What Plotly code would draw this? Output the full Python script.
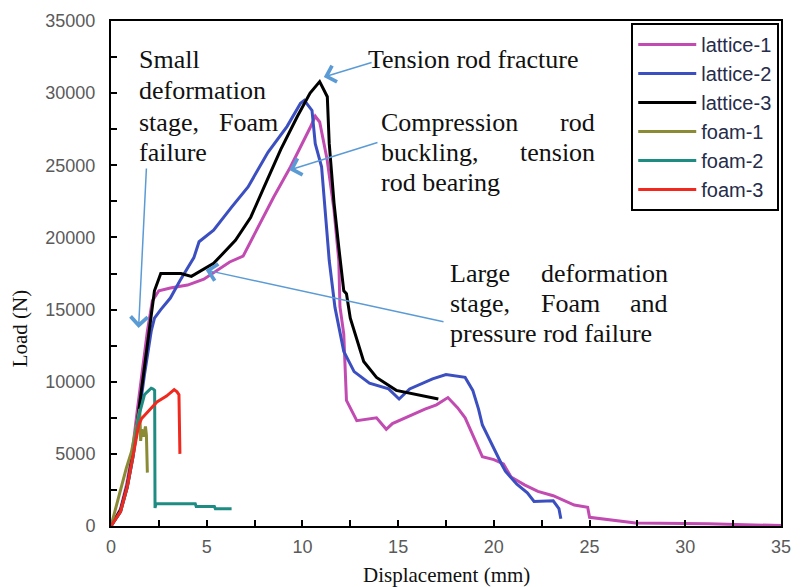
import plotly.graph_objects as go

# ---------------- data ----------------
lat1_x = [0, 0.5, 0.82, 1.1, 1.39, 1.65, 1.9, 2.16, 2.5, 3.1, 4.0, 4.85, 5.5, 6.2, 6.9, 7.68, 8.5, 9.38,
          10.0, 10.4, 10.67, 10.9, 11.29, 11.65, 11.9, 11.96, 12.16, 12.3, 12.84, 13.87, 14.38, 14.7,
          15.9, 16.4, 17.0, 17.6, 18.1, 18.5, 19.0, 19.4, 20.0, 20.5, 20.9, 21.6, 22.3, 23.1, 24.2,
          24.9, 25.0, 27.4, 31.2, 35.0]
lat1_y = [0, 1200, 2900, 5000, 8200, 11000, 13500, 15600, 16300, 16500, 16700, 17100, 17700, 18300,
          18700, 20700, 22800, 24900, 26500, 27600, 28400, 28000, 25400, 21900, 18400, 15200, 13300,
          8700, 7300, 7500, 6700, 7100, 7800, 8100, 8400, 8900, 8200, 7500, 6000, 4800, 4600, 4300,
          3400, 2850, 2400, 2100, 1450, 1300, 600, 200, 150, 30]

lat2_x = [0, 0.5, 0.85, 1.15, 1.45, 1.75, 2.1, 2.27, 2.6, 3.1, 3.6, 4.33, 4.6, 5.36, 6.3, 7.16, 8.2,
          9.2, 9.9, 10.1, 10.5, 10.67, 11.0, 11.2, 11.4, 11.7, 12.16, 12.7, 13.5, 14.5, 15.05, 15.6,
          16.8, 17.5, 18.5, 18.9, 19.2, 19.4, 19.9, 20.4, 20.6, 21.2, 21.75, 22.1, 23.1, 23.4, 23.5]
lat2_y = [0, 1000, 2700, 4800, 7600, 10500, 13500, 14400, 15000, 15800, 17000, 18600, 19700, 20500,
          22100, 23500, 25900, 27700, 29300, 29500, 28800, 26500, 24900, 21900, 18400, 15150, 12100,
          10700, 9900, 9500, 8800, 9500, 10200, 10500, 10300, 9400, 8100, 7000, 5600, 4300, 3800,
          2900, 2300, 1700, 1750, 1200, 500]

lat3_x = [0, 0.5, 0.85, 1.15, 1.45, 1.75, 2.0, 2.27, 2.6, 3.0, 3.66, 4.2, 5.36, 6.5, 7.3, 8.0, 8.87,
          9.74, 10.4, 10.9, 11.3, 11.4, 11.65, 11.9, 12.16, 12.3, 12.5, 13.2, 13.87, 14.9, 16.0, 17.1]
lat3_y = [0, 1100, 2800, 5000, 8000, 11000, 13500, 16300, 17500, 17500, 17500, 17300, 18200, 19800,
          21400, 23500, 26100, 28400, 30000, 30800, 29750, 26500, 22400, 19300, 16300, 16100, 14400,
          11400, 10300, 9400, 9100, 8800]

foam1_x = [0, 0.3, 0.56, 0.8, 1.07, 1.3, 1.5, 1.55, 1.6, 1.7, 1.8, 1.85, 1.9]
foam1_y = [0, 1500, 2850, 4000, 5150, 6800, 8100, 5900, 6700, 6200, 6900, 6300, 3700]

foam2_x = [0, 0.5, 0.85, 1.15, 1.45, 1.65, 1.75, 1.9, 2.1, 2.2, 2.28, 2.3, 2.35, 4.4, 4.45, 5.4, 5.45, 6.3]
foam2_y = [0, 1000, 2700, 4800, 7600, 8500, 9100, 9300, 9550, 9500, 9400, 1250, 1550, 1550, 1350,
           1350, 1200, 1200]

foam3_x = [0, 0.5, 0.85, 1.15, 1.45, 1.6, 1.9, 2.4, 2.9, 3.3, 3.45, 3.55, 3.6]
foam3_y = [0, 1000, 2700, 4800, 7000, 7450, 7900, 8600, 9000, 9450, 9300, 9100, 5000]

series_names = ["lattice-1", "lattice-2", "lattice-3", "foam-1", "foam-2", "foam-3"]
series_colors = ["#C24BB2", "#3B4FC0", "#000000", "#8B8B36", "#1F8C84", "#F0281E"]

x_ticks = [0, 5, 10, 15, 20, 25, 30, 35]
y_ticks = [0, 5000, 10000, 15000, 20000, 25000, 30000, 35000]

# ---------------- layout geometry ----------------
W, H = 801, 587
L, R, T, B = 111, 10, 21, 61
PW, PH = W - L - R, H - T - B
XMAX, YMAX = 35, 35000


def px2x(px):
    return (px - L) / PW * XMAX


def py2y(py):
    return (H - B - py) / PH * YMAX


fig = go.Figure()
all_x = [lat1_x, lat2_x, lat3_x, foam1_x, foam2_x, foam3_x]
all_y = [lat1_y, lat2_y, lat3_y, foam1_y, foam2_y, foam3_y]
for xs, ys, nm, c in zip(all_x, all_y, series_names, series_colors):
    fig.add_trace(go.Scatter(x=xs, y=ys, name=nm, mode="lines",
                             line=dict(color=c, width=3)))

serif = "Liberation Serif"
TXT = dict(family=serif, size=26, color="#111111")
ann = []


def word(text, px, py, anchor):
    ann.append(dict(text=text, x=px2x(px), y=py2y(py), xref="x", yref="y",
                    xanchor=anchor, yanchor="middle", showarrow=False, font=TXT))


# Block A
word("Small", 137, 59, "left")
word("deformation", 137, 90, "left")
word("stage,", 137, 122, "left")
word("Foam", 283, 122, "right")
word("failure", 137, 152, "left")
# Block B
word("Tension rod fracture", 370, 59, "left")
# Block C
word("Compression", 383, 122, "left")
word("rod", 604, 122, "right")
word("buckling,", 383, 152, "left")
word("tension", 604, 152, "right")
word("rod bearing", 383, 182, "left")
# Block D
word("Large", 453, 273, "left")
word("deformation", 678, 273, "right")
word("stage,", 453, 303, "left")
word("Foam", 577, 303, "center")
word("and", 678, 303, "right")
word("pressure rod failure", 453, 333, "left")

ARROW = "#5B9BD5"


def arrow(tail, tip):
    ann.append(dict(text="", x=px2x(tip[0]), y=py2y(tip[1]), ax=px2x(tail[0]), ay=py2y(tail[1]),
                    xref="x", yref="y", axref="x", ayref="y", showarrow=True,
                    arrowhead=4, arrowsize=2.2, arrowwidth=1.5, arrowcolor=ARROW, standoff=0))


arrow((147, 167), (139, 328))
arrow((377, 62), (327, 77))
arrow((383, 142), (292, 170))
arrow((450, 322), (207, 270))

# axis titles
ann.append(dict(text="Load (N)", x=(19 - L) / PW, y=(H - B - 328) / PH, xref="paper", yref="paper",
                xanchor="center", yanchor="middle", showarrow=False, textangle=-90,
                font=dict(family=serif, size=21, color="#111111")))
ann.append(dict(text="Displacement (mm)", x=(451 - L) / PW, y=(H - B - 575) / PH, xref="paper",
                yref="paper", xanchor="center", yanchor="middle", showarrow=False,
                font=dict(family=serif, size=21, color="#111111")))

tickfont = dict(family="Liberation Sans", size=18, color="#5a5a5a")
axis_common = dict(showline=True, linecolor="black", linewidth=2, mirror=True,
                   ticks="inside", ticklen=6, tickwidth=2, tickcolor="black",
                   showgrid=False, zeroline=False, tickfont=tickfont, fixedrange=True)

fig.update_layout(
    width=W, height=H,
    margin=dict(l=L, r=R, t=T, b=B, pad=0),
    paper_bgcolor="white", plot_bgcolor="white",
    xaxis=dict(range=[0, XMAX], tickvals=x_ticks, ticktext=[str(v) for v in x_ticks],
               minor=dict(ticks="inside", dtick=2.5, ticklen=6, tickwidth=2, tickcolor="black"),
               ticklabelstandoff=3, **axis_common),
    yaxis=dict(range=[0, YMAX], tickvals=y_ticks, ticktext=[str(v) for v in y_ticks],
               minor=dict(ticks="inside", dtick=2500, ticklen=6, tickwidth=2, tickcolor="black"),
               ticklabelstandoff=10, **axis_common),
    legend=dict(x=(639 - L) / PW, y=(H - B - 23) / PH, xanchor="left", yanchor="top",
                bgcolor="white", bordercolor="black", borderwidth=2,
                font=dict(family="Liberation Sans", size=20, color="#262c4a"),
                itemwidth=58,
                tracegroupgap=0),
    annotations=ann,
    showlegend=True,
)

fig.write_html("out.html")
